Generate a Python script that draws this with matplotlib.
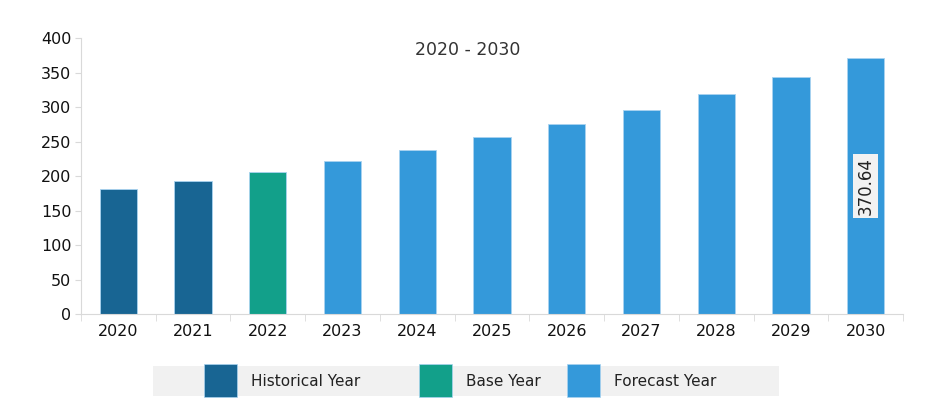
import matplotlib.pyplot as plt
from matplotlib.patches import Rectangle

years = ["2020", "2021", "2022", "2023", "2024", "2025", "2026", "2027", "2028", "2029", "2030"]
values = [181, 193, 206, 222, 238, 256, 275, 296, 319, 343, 370.64]
kinds = ["Historical Year"] * 2 + ["Base Year"] + ["Forecast Year"] * 8
kind_colors = {"Historical Year": "#186593", "Base Year": "#12a08a", "Forecast Year": "#3499da"}
y_ticks = [0, 50, 100, 150, 200, 250, 300, 350, 400]

plt.rcParams["font.family"] = ["DejaVu Sans"]

fig = plt.figure(figsize=(9.46, 4.0), dpi=100)
ax = fig.add_axes([0.0856, 0.215, 0.869, 0.69])

x = list(range(len(years)))
colors = [kind_colors[k] for k in kinds]
ax.bar(x, values, width=0.5, color=colors, edgecolor="#a9d3f0", linewidth=0.6)

ax.set_xlim(-0.5, len(years) - 0.5)
ax.set_ylim(0, 400)
ax.set_yticks(y_ticks)
ax.set_xticks(x)
ax.set_xticklabels(years)
ax.set_xticks([i + 0.5 for i in range(-1, len(years))], minor=True)
ax.tick_params(axis="x", which="major", length=0, labelsize=11.5, pad=7, labelcolor="#111111")
ax.tick_params(axis="x", which="minor", length=5, color="#d9d9d9")
ax.tick_params(axis="y", length=4, color="#d9d9d9", labelsize=11.5, pad=3, labelcolor="#111111")

for s in ["top", "right"]:
    ax.spines[s].set_visible(False)
for s in ["left", "bottom"]:
    ax.spines[s].set_color("#d9d9d9")

ax.text(0.471, 0.955, "2020 - 2030", transform=ax.transAxes, ha="center", va="center",
        fontsize=12.5, color="#333333")

# value label on last bar
ax.text(x[-1], values[-1] / 2, f"{values[-1]:.2f}", rotation=90, ha="center", va="center",
        fontsize=12, color="#222222",
        bbox=dict(boxstyle="square,pad=0.2", facecolor="#f2f2f2", edgecolor="none"))

# legend band
fig.patches.append(Rectangle((153 / 946, 1 - 396 / 400), (779 - 153) / 946, 30 / 400,
                             transform=fig.transFigure, facecolor="#f1f1f1", edgecolor="none"))
legend_x = [204, 419, 567]
for px, (name, col) in zip(legend_x, kind_colors.items()):
    fig.patches.append(Rectangle((px / 946, 1 - 397 / 400), 33 / 946, 33 / 400,
                                 transform=fig.transFigure, facecolor=col,
                                 edgecolor="#a9d3f0", linewidth=0.5))
    fig.text((px + 47) / 946, 1 - 381 / 400, name, ha="left", va="center",
             fontsize=11, color="#222222")

fig.savefig("out.png", dpi=100)
